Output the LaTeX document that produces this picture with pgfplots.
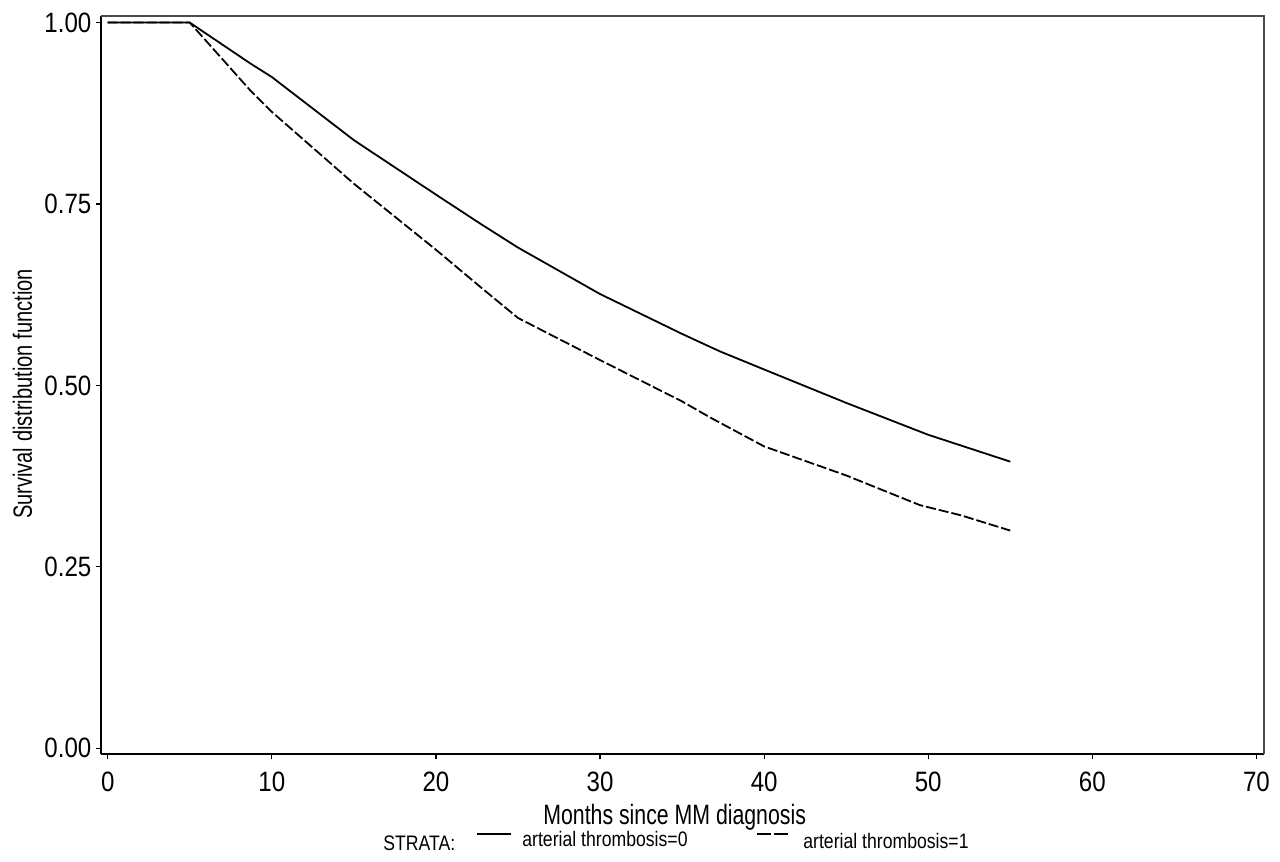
\documentclass[border=0pt]{standalone}
\usepackage{pgfplots}
\pgfplotsset{compat=1.18}
\usepackage{fontspec}
\setmainfont{Liberation Sans}[FakeStretch=0.76]
\newfontfamily\legfont{Liberation Sans}[FakeStretch=0.84]
\newfontfamily\tickfont{Liberation Sans}[FakeStretch=0.86]
\begin{document}
\begin{tikzpicture}
\useasboundingbox (-50.5pt,-53.85pt) rectangle (589.5pt,377.15pt);
\begin{axis}[
  at={(0pt,0pt)}, anchor=south west,
  scale only axis, width=581.5pt, height=369.15pt,
  xmin=-0.41, xmax=70.46, ymin=-0.00827, ymax=1.0091,
  axis x line*=bottom, axis y line*=left,
  axis line style={line width=1pt, black},
  xtick={0,10,20,30,40,50,60,70},
  ytick={0,0.25,0.5,0.75,1},
  yticklabels={0.00,0.25,0.50,0.75,1.00},
  tick align=outside, major tick length=2.5pt,
  tick style={black, line width=0.6pt},
  ticklabel style={font=\tickfont\fontsize{14}{16}\selectfont},
  xticklabel style={yshift=-3pt},
  yticklabel style={xshift=1.2pt},
  /pgf/number format/assume math mode=true,
]
\addplot[black, line width=0.9pt] coordinates {
(0,1) (5,1) (8.67,0.944) (10,0.925) (15,0.838) (20,0.763) (22.7,0.723)
(25,0.690) (30,0.626) (35,0.571) (37.3,0.547) (40,0.522) (45,0.476)
(50,0.432) (55,0.395)};
\addplot[black, line width=0.9pt, dash pattern=on 5pt off 1.5pt] coordinates {
(0,1) (5,1) (8.67,0.907) (10,0.877) (15,0.778) (20,0.687) (22.8,0.634)
(25,0.593) (30,0.535) (35,0.478) (36.7,0.456) (40,0.416) (45,0.376)
(49.5,0.335) (52,0.321) (55,0.300)};
\end{axis}
\draw[gray!60!black, line width=0.7pt] (0pt,369.15pt) -- (581.5pt,369.15pt) -- (581.5pt,0pt);
\node[anchor=base west, inner sep=0pt, font=\fontsize{14}{16}\selectfont] at (221pt,-35.35pt) {Months since MM diagnosis};
\node[anchor=base, rotate=90, inner sep=0pt, font=\fontsize{13.2}{16}\selectfont] at (-34.5pt,180.15pt) {Survival distribution function};
\node[anchor=base west, inner sep=0pt, font=\legfont\fontsize{10.5}{12}\selectfont] at (141pt,-47.85pt) {STRATA:};
\draw[black, line width=0.6pt] (188pt,-39.85pt) -- (205pt,-39.85pt);
\node[anchor=base west, inner sep=0pt, font=\legfont\fontsize{10.5}{12}\selectfont] at (210.5pt,-46.35pt) {arterial thrombosis=0};
\draw[black, line width=0.6pt, dash pattern=on 7pt off 1.5pt] (328pt,-39.85pt) -- (343.5pt,-39.85pt);
\node[anchor=base west, inner sep=0pt, font=\legfont\fontsize{10.5}{12}\selectfont] at (351pt,-47pt) {arterial thrombosis=1};
\end{tikzpicture}
\end{document}
